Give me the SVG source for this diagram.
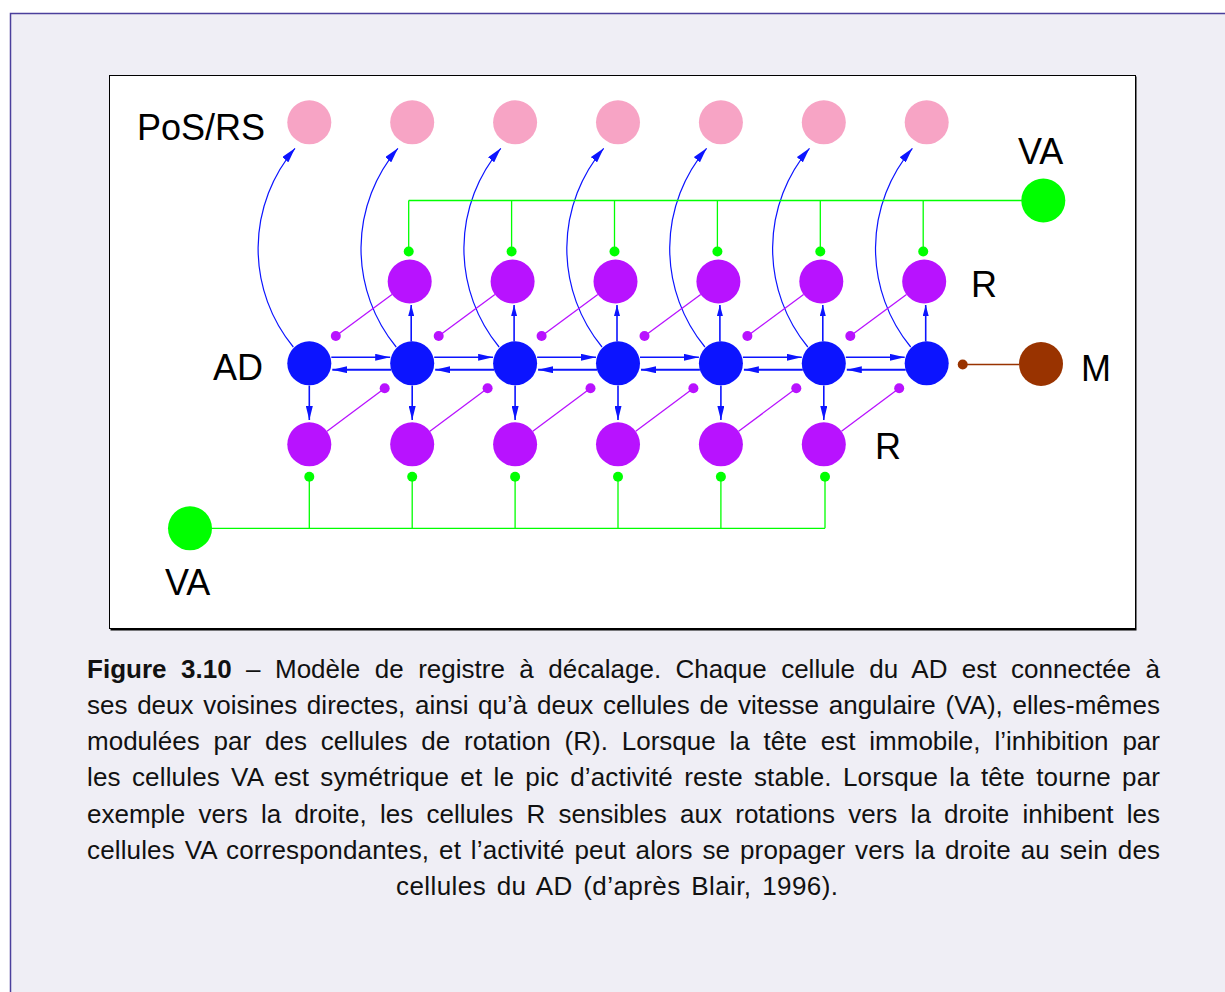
<svg xmlns="http://www.w3.org/2000/svg" width="1225" height="992" viewBox="0 0 1225 992">
<style>
.lbl{font-family:"Liberation Sans",Arial,sans-serif;font-size:36px;fill:#000}
.cap{font-family:"Liberation Sans",Arial,sans-serif;font-size:26px;fill:#111}
.ad{fill:#0c14ff}
.pk{fill:#f7a4c5}
.rr{fill:#b812ff}
.va{fill:#00ff00}
.bl{stroke:#0c14ff;fill:none}
.gr{stroke:#00ff00;stroke-width:1.3;fill:none}
.pu{stroke:#b812ff;stroke-width:1.3;fill:none}
.gd{fill:#00ff00}
.pd{fill:#b812ff}
</style>
<defs>
<marker id="ah" markerUnits="userSpaceOnUse" markerWidth="15" markerHeight="7" refX="15" refY="3.5" orient="auto"><path d="M0,0 L15,3.5 L0,7 z" fill="#0c14ff"/></marker>
<marker id="av" markerUnits="userSpaceOnUse" markerWidth="14" markerHeight="7" refX="14" refY="3.5" orient="auto"><path d="M0,0 L14,3.5 L0,7 z" fill="#0c14ff"/></marker>
<marker id="au" markerUnits="userSpaceOnUse" markerWidth="11" markerHeight="6" refX="11" refY="3" orient="auto"><path d="M0,0 L11,3 L0,6 z" fill="#0c14ff"/></marker>
<marker id="ac" markerUnits="userSpaceOnUse" markerWidth="15" markerHeight="8" refX="15" refY="4" orient="auto"><path d="M0,0 L15,4 L0,8 z" fill="#0c14ff"/></marker>
</defs>
<rect x="0" y="0" width="1225" height="992" fill="#ffffff"/>
<rect x="10.5" y="13.5" width="1230" height="990" fill="#efeef5" stroke="#4b3f9c" stroke-width="1.5"/>
<rect x="110.5" y="76.5" width="1026" height="554" fill="#000"/>
<rect x="109.5" y="75.5" width="1026" height="553" fill="#fff" stroke="#000" stroke-width="1"/>

<g id="connectors">
<g id="ad-to-pos">
<path class="bl" stroke-width="1.2" marker-end="url(#ac)" d="M293.3 347 A155 155 0 0 1 295 148.3"/>
<path class="bl" stroke-width="1.2" marker-end="url(#ac)" d="M396.2 347 A155 155 0 0 1 397.9 148.3"/>
<path class="bl" stroke-width="1.2" marker-end="url(#ac)" d="M499.1 347 A155 155 0 0 1 500.8 148.3"/>
<path class="bl" stroke-width="1.2" marker-end="url(#ac)" d="M602 347 A155 155 0 0 1 603.7 148.3"/>
<path class="bl" stroke-width="1.2" marker-end="url(#ac)" d="M704.9 347 A155 155 0 0 1 706.6 148.3"/>
<path class="bl" stroke-width="1.2" marker-end="url(#ac)" d="M807.8 347 A155 155 0 0 1 809.5 148.3"/>
<path class="bl" stroke-width="1.2" marker-end="url(#ac)" d="M910.7 347 A155 155 0 0 1 912.4 148.3"/>
</g>
<g id="ad-right" class="bl" stroke-width="1.4">
<line x1="331.3" y1="357.3" x2="390.2" y2="357.3" marker-end="url(#ah)"/>
<line x1="434.2" y1="357.3" x2="493.1" y2="357.3" marker-end="url(#ah)"/>
<line x1="537.1" y1="357.3" x2="596" y2="357.3" marker-end="url(#ah)"/>
<line x1="640" y1="357.3" x2="698.9" y2="357.3" marker-end="url(#ah)"/>
<line x1="742.9" y1="357.3" x2="801.8" y2="357.3" marker-end="url(#ah)"/>
<line x1="845.8" y1="357.3" x2="904.7" y2="357.3" marker-end="url(#ah)"/>
</g>
<g id="ad-left" class="bl" stroke-width="2">
<line x1="391.2" y1="369.7" x2="332.3" y2="369.7" marker-end="url(#ah)"/>
<line x1="494.1" y1="369.7" x2="435.2" y2="369.7" marker-end="url(#ah)"/>
<line x1="597" y1="369.7" x2="538.1" y2="369.7" marker-end="url(#ah)"/>
<line x1="699.9" y1="369.7" x2="641" y2="369.7" marker-end="url(#ah)"/>
<line x1="802.8" y1="369.7" x2="743.9" y2="369.7" marker-end="url(#ah)"/>
<line x1="905.7" y1="369.7" x2="846.8" y2="369.7" marker-end="url(#ah)"/>
</g>
<g id="ad-up" class="bl" stroke-width="1.6">
<line x1="411.2" y1="341.5" x2="411.2" y2="305" marker-end="url(#au)"/>
<line x1="514.1" y1="341.5" x2="514.1" y2="305" marker-end="url(#au)"/>
<line x1="617" y1="341.5" x2="617" y2="305" marker-end="url(#au)"/>
<line x1="719.9" y1="341.5" x2="719.9" y2="305" marker-end="url(#au)"/>
<line x1="822.8" y1="341.5" x2="822.8" y2="305" marker-end="url(#au)"/>
<line x1="925.7" y1="341.5" x2="925.7" y2="305" marker-end="url(#au)"/>
</g>
<g id="ad-down" class="bl" stroke-width="1.6">
<line x1="309.3" y1="385.5" x2="309.3" y2="420" marker-end="url(#av)"/>
<line x1="412.2" y1="385.5" x2="412.2" y2="420" marker-end="url(#av)"/>
<line x1="515.1" y1="385.5" x2="515.1" y2="420" marker-end="url(#av)"/>
<line x1="618" y1="385.5" x2="618" y2="420" marker-end="url(#av)"/>
<line x1="720.9" y1="385.5" x2="720.9" y2="420" marker-end="url(#av)"/>
<line x1="823.8" y1="385.5" x2="823.8" y2="420" marker-end="url(#av)"/>
</g>
<g id="r-upper-inhib">
<line class="pu" x1="392" y1="294.6" x2="335.8" y2="336"/><circle class="pd" cx="335.8" cy="336" r="5"/>
<line class="pu" x1="494.9" y1="294.6" x2="438.7" y2="336"/><circle class="pd" cx="438.7" cy="336" r="5"/>
<line class="pu" x1="597.8" y1="294.6" x2="541.6" y2="336"/><circle class="pd" cx="541.6" cy="336" r="5"/>
<line class="pu" x1="700.7" y1="294.6" x2="644.5" y2="336"/><circle class="pd" cx="644.5" cy="336" r="5"/>
<line class="pu" x1="803.6" y1="294.6" x2="747.4" y2="336"/><circle class="pd" cx="747.4" cy="336" r="5"/>
<line class="pu" x1="906.5" y1="294.6" x2="850.3" y2="336"/><circle class="pd" cx="850.3" cy="336" r="5"/>
</g>
<g id="r-lower-inhib">
<line class="pu" x1="327" y1="431.2" x2="384.7" y2="388.3"/><circle class="pd" cx="384.7" cy="388.3" r="5"/>
<line class="pu" x1="429.9" y1="431.2" x2="487.6" y2="388.3"/><circle class="pd" cx="487.6" cy="388.3" r="5"/>
<line class="pu" x1="532.8" y1="431.2" x2="590.5" y2="388.3"/><circle class="pd" cx="590.5" cy="388.3" r="5"/>
<line class="pu" x1="635.7" y1="431.2" x2="693.4" y2="388.3"/><circle class="pd" cx="693.4" cy="388.3" r="5"/>
<line class="pu" x1="738.6" y1="431.2" x2="796.3" y2="388.3"/><circle class="pd" cx="796.3" cy="388.3" r="5"/>
<line class="pu" x1="841.5" y1="431.2" x2="899.2" y2="388.3"/><circle class="pd" cx="899.2" cy="388.3" r="5"/>
</g>
<g id="va-top-links">
<path class="gr" d="M408.7 200.5 H1022 M408.7 200.5 V247 M511.6 200.5 V247 M614.5 200.5 V247 M717.4 200.5 V247 M820.3 200.5 V247 M923.2 200.5 V247"/>
<circle class="gd" cx="408.7" cy="251.5" r="5"/>
<circle class="gd" cx="511.6" cy="251.5" r="5"/>
<circle class="gd" cx="614.5" cy="251.5" r="5"/>
<circle class="gd" cx="717.4" cy="251.5" r="5"/>
<circle class="gd" cx="820.3" cy="251.5" r="5"/>
<circle class="gd" cx="923.2" cy="251.5" r="5"/>
</g>
<g id="va-bottom-links">
<path class="gr" d="M211 528.3 H825 M309.3 528.3 V481 M412.2 528.3 V481 M515.1 528.3 V481 M618 528.3 V481 M720.9 528.3 V481 M825 528.3 V481"/>
<circle class="gd" cx="309.3" cy="476.7" r="5"/>
<circle class="gd" cx="412.2" cy="476.7" r="5"/>
<circle class="gd" cx="515.1" cy="476.7" r="5"/>
<circle class="gd" cx="618" cy="476.7" r="5"/>
<circle class="gd" cx="720.9" cy="476.7" r="5"/>
<circle class="gd" cx="825" cy="476.7" r="5"/>
</g>
<g id="m-link">
<line x1="962.7" y1="364.5" x2="1019" y2="364.5" stroke="#993300" stroke-width="1.3"/>
<circle cx="962.7" cy="364.5" r="5" fill="#993300"/>
</g>
</g>

<g id="pos-nodes">
<g id="pos1"><circle class="pk" cx="309.3" cy="122.3" r="22"/></g>
<g id="pos2"><circle class="pk" cx="412.2" cy="122.3" r="22"/></g>
<g id="pos3"><circle class="pk" cx="515.1" cy="122.3" r="22"/></g>
<g id="pos4"><circle class="pk" cx="618" cy="122.3" r="22"/></g>
<g id="pos5"><circle class="pk" cx="720.9" cy="122.3" r="22"/></g>
<g id="pos6"><circle class="pk" cx="823.8" cy="122.3" r="22"/></g>
<g id="pos7"><circle class="pk" cx="926.7" cy="122.3" r="22"/></g>
</g>
<g id="r-upper-nodes">
<g id="ru2"><circle class="rr" cx="409.7" cy="281.5" r="22"/></g>
<g id="ru3"><circle class="rr" cx="512.6" cy="281.5" r="22"/></g>
<g id="ru4"><circle class="rr" cx="615.5" cy="281.5" r="22"/></g>
<g id="ru5"><circle class="rr" cx="718.4" cy="281.5" r="22"/></g>
<g id="ru6"><circle class="rr" cx="821.3" cy="281.5" r="22"/></g>
<g id="ru7"><circle class="rr" cx="924.2" cy="281.5" r="22"/></g>
</g>
<g id="ad-nodes">
<g id="ad1"><circle class="ad" cx="309.3" cy="363.3" r="22"/></g>
<g id="ad2"><circle class="ad" cx="412.2" cy="363.3" r="22"/></g>
<g id="ad3"><circle class="ad" cx="515.1" cy="363.3" r="22"/></g>
<g id="ad4"><circle class="ad" cx="618" cy="363.3" r="22"/></g>
<g id="ad5"><circle class="ad" cx="720.9" cy="363.3" r="22"/></g>
<g id="ad6"><circle class="ad" cx="823.8" cy="363.3" r="22"/></g>
<g id="ad7"><circle class="ad" cx="926.7" cy="363.3" r="22"/></g>
</g>
<g id="r-lower-nodes">
<g id="rl1"><circle class="rr" cx="309.3" cy="444.3" r="22"/></g>
<g id="rl2"><circle class="rr" cx="412.2" cy="444.3" r="22"/></g>
<g id="rl3"><circle class="rr" cx="515.1" cy="444.3" r="22"/></g>
<g id="rl4"><circle class="rr" cx="618" cy="444.3" r="22"/></g>
<g id="rl5"><circle class="rr" cx="720.9" cy="444.3" r="22"/></g>
<g id="rl6"><circle class="rr" cx="823.8" cy="444.3" r="22"/></g>
</g>
<g id="va-top"><circle class="va" cx="1043.3" cy="200.5" r="22"/></g>
<g id="va-bottom"><circle class="va" cx="190" cy="528.3" r="22"/></g>
<g id="m-node"><circle cx="1041" cy="364" r="22" fill="#993300"/></g>

<g id="labels">
<text class="lbl" x="137" y="140">PoS/RS</text>
<text class="lbl" x="1018" y="164">VA</text>
<text class="lbl" x="213" y="380">AD</text>
<text class="lbl" x="971" y="297">R</text>
<text class="lbl" x="1081" y="381">M</text>
<text class="lbl" x="875" y="459">R</text>
<text class="lbl" x="165" y="595">VA</text>
</g>

<g id="caption">
<text class="cap" x="87" y="677.5" textLength="1073" lengthAdjust="spacing" word-spacing="7.2"><tspan font-weight="bold">Figure 3.10</tspan> – Modèle de registre à décalage. Chaque cellule du AD est connectée à</text>
<text class="cap" x="87" y="713.8" textLength="1073" lengthAdjust="spacing" word-spacing="2.4">ses deux voisines directes, ainsi qu’à deux cellules de vitesse angulaire (VA), elles-mêmes</text>
<text class="cap" x="87" y="750.1" textLength="1073" lengthAdjust="spacing" word-spacing="6.6">modulées par des cellules de rotation (R). Lorsque la tête est immobile, l’inhibition par</text>
<text class="cap" x="87" y="786.4" textLength="1073" lengthAdjust="spacing" word-spacing="3.8">les cellules VA est symétrique et le pic d’activité reste stable. Lorsque la tête tourne par</text>
<text class="cap" x="87" y="822.7" textLength="1073" lengthAdjust="spacing" word-spacing="6">exemple vers la droite, les cellules R sensibles aux rotations vers la droite inhibent les</text>
<text class="cap" x="87" y="859" textLength="1073" lengthAdjust="spacing" word-spacing="2.5">cellules VA correspondantes, et l’activité peut alors se propager vers la droite au sein des</text>
<text class="cap" x="396" y="895.3" textLength="442" lengthAdjust="spacing" word-spacing="3">cellules du AD (d’après Blair, 1996).</text>
</g>
</svg>
